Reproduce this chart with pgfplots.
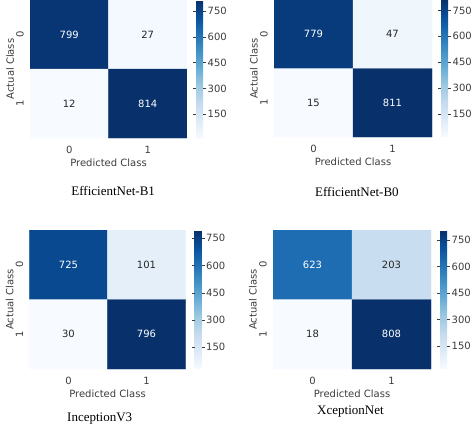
\documentclass[border=0pt]{standalone}
\usepackage{fontspec}
\setmainfont{DejaVu Sans}
\newfontfamily\timesf{Liberation Serif}
\usepackage{pgfplots}
\pgfplotsset{compat=1.18}
\definecolor{txt}{RGB}{60,60,60}
\definecolor{celltxt}{RGB}{38,38,38}
\pgfplotsset{
  colormap={sbblues}{rgb255=(247,251,255) rgb255=(222,235,247) rgb255=(198,219,239) rgb255=(158,202,225) rgb255=(107,174,214) rgb255=(66,146,198) rgb255=(33,113,181) rgb255=(8,81,156) rgb255=(8,48,107)},
  /pgf/number format/assume math mode=true,
  cm/.style={
    width=157pt, height=138pt, scale only axis,
    xmin=-0.5, xmax=1.5, ymin=-0.5, ymax=1.5, y dir=reverse,
    xtick={0,1}, ytick={0,1},
    axis line style={draw=none}, major tick length=0pt,
    tick label style={font=\fontsize{10}{12}\selectfont, text=txt},
    xticklabel style={anchor=center, yshift=-12pt},
    yticklabel style={anchor=center, xshift=-10pt, rotate=90},
    xlabel={Predicted Class}, ylabel={Actual Class},
    label style={font=\fontsize{10}{12}\selectfont, text=txt},
    xlabel style={at={(axis description cs:0.5,-0.18)}, anchor=center},
    ylabel style={at={(axis description cs:-0.127,0.5)}, anchor=center},
    title style={font=\timesf\fontsize{13}{15}\selectfont, text=black, anchor=center},
    colormap name=sbblues,
    colorbar,
    colorbar style={
      at={(parent axis.north east)}, anchor=north west, xshift=0.5pt,
      width=7pt,
      ytick={150,300,450,600,750},
      axis line style={draw=none},
      major tick length=3pt, tick align=outside,
      ytick style={draw=txt, line width=0.5pt},
      yticklabel style={font=\fontsize{10}{12}\selectfont, text=txt, inner sep=1.5pt},
    },
  },
  celltext/.style={draw=none, nodes near coords, point meta=explicit symbolic,
    nodes near coords style={anchor=center, font=\fontsize{10}{12}\selectfont, text=#1}},
}
\begin{document}
\begin{tikzpicture}
\useasboundingbox (0,0) rectangle (474pt,429pt);
% Panel 1
\begin{axis}[cm, at={(30pt,291pt)}, anchor=south west, height=138pt,
  point meta min=12, point meta max=814,
  title={EfficientNet-B1}, title style={at={(axis description cs:0.53,-0.428)}}]
\addplot[matrix plot*, mesh/cols=2, mesh/rows=2, point meta=explicit] table[x=x,y=y,meta=c] {
x y c
0 0 799
1 0 27
0 1 12
1 1 814
};
\addplot[celltext=white] table[x=x,y=y,meta=l] {
x y l
0 0 799
1 1 814
};
\addplot[celltext=celltxt] table[x=x,y=y,meta=l] {
x y l
1 0 27
0 1 12
};
\end{axis}
% Panel 2
\begin{axis}[cm, at={(274pt,292pt)}, anchor=south west, height=137pt, width=158pt,
  point meta min=15, point meta max=811,
  title={EfficientNet-B0}, title style={at={(axis description cs:0.525,-0.445)}}]
\addplot[matrix plot*, mesh/cols=2, mesh/rows=2, point meta=explicit] table[x=x,y=y,meta=c] {
x y c
0 0 779
1 0 47
0 1 15
1 1 811
};
\addplot[celltext=white] table[x=x,y=y,meta=l] {
x y l
0 0 779
1 1 811
};
\addplot[celltext=celltxt] table[x=x,y=y,meta=l] {
x y l
1 0 47
0 1 15
};
\end{axis}
% Panel 3
\begin{axis}[cm, at={(29.5pt,60pt)}, anchor=south west, height=139pt, width=156pt,
  point meta min=30, point meta max=796,
  title={InceptionV3}, title style={at={(axis description cs:0.45,-0.403)}}]
\addplot[matrix plot*, mesh/cols=2, mesh/rows=2, point meta=explicit] table[x=x,y=y,meta=c] {
x y c
0 0 725
1 0 101
0 1 30
1 1 796
};
\addplot[celltext=white] table[x=x,y=y,meta=l] {
x y l
0 0 725
1 1 796
};
\addplot[celltext=celltxt] table[x=x,y=y,meta=l] {
x y l
1 0 101
0 1 30
};
\end{axis}
% Panel 4
\begin{axis}[cm, at={(273pt,60pt)}, anchor=south west, height=139pt, width=158pt,
  point meta min=18, point meta max=808,
  title={XceptionNet}, title style={at={(axis description cs:0.49,-0.353)}}]
\addplot[matrix plot*, mesh/cols=2, mesh/rows=2, point meta=explicit] table[x=x,y=y,meta=c] {
x y c
0 0 623
1 0 203
0 1 18
1 1 808
};
\addplot[celltext=white] table[x=x,y=y,meta=l] {
x y l
0 0 623
1 1 808
};
\addplot[celltext=celltxt] table[x=x,y=y,meta=l] {
x y l
1 0 203
0 1 18
};
\end{axis}
\end{tikzpicture}
\end{document}
